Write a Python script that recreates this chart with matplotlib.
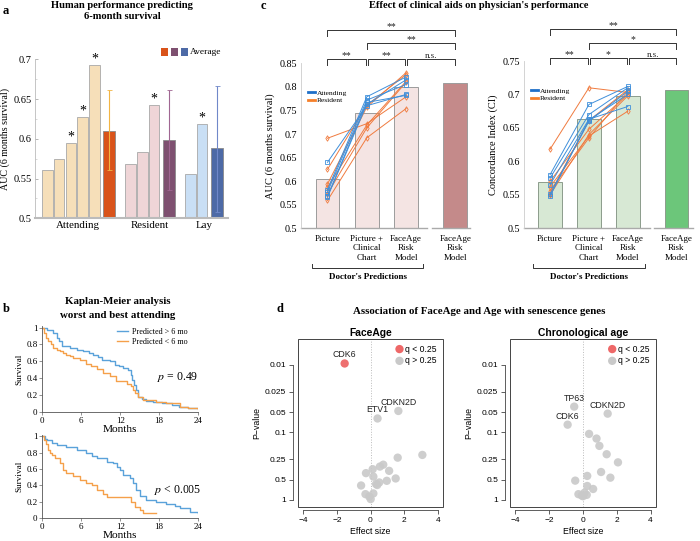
import numpy as np
import matplotlib
matplotlib.use('Agg')
import matplotlib.pyplot as plt
from matplotlib.lines import Line2D
from matplotlib.patches import Rectangle
import matplotlib.transforms as mtransforms

SERIF = 'Liberation Serif'
SANS = 'Liberation Sans'
plt.rcParams['font.family'] = [SERIF, 'DejaVu Serif']
plt.rcParams['mathtext.fontset'] = 'stix'

# ---------------- DATA ----------------
# Panel a
a_groups = ['Attending', 'Resident', 'Lay']
a_attending = [0.561, 0.575, 0.595, 0.627, 0.693]
a_resident = [0.568, 0.584, 0.642]
a_lay = [0.556, 0.618]
a_avg = [0.610, 0.598, 0.588]
a_avg_low = [0.561, 0.535, 0.508]
a_avg_high = [0.661, 0.661, 0.667]
a_sig_attending = [0, 0, 1, 1, 1]
a_sig_resident = [0, 0, 1]
a_sig_lay = [0, 1]

# Panel b (Kaplan-Meier, worst attending / best attending)
km1_hi_t = [0, 0.8, 1.6, 2.2, 2.6, 3.0, 4.2, 5.4, 6.3, 7.2, 7.8, 8.6, 9.2, 10.4, 11.2, 11.8, 12.5, 13.2, 13.6,
            13.9, 14.2, 14.5, 14.8, 15.3, 16.0, 17.0, 18.5, 20.0, 21.0, 22.5, 24.0]
km1_hi_s = [1.0, 0.97, 0.94, 0.88, 0.84, 0.78, 0.76, 0.74, 0.72, 0.70, 0.68, 0.65, 0.62, 0.60, 0.56, 0.54, 0.52,
            0.50, 0.44, 0.38, 0.32, 0.26, 0.18, 0.15, 0.13, 0.12, 0.10, 0.08, 0.05, 0.04, 0.04]
km1_lo_t = [0, 0.3, 0.6, 0.9, 1.3, 1.7, 2.2, 2.7, 3.2, 3.7, 4.3, 4.8, 5.8, 6.8, 7.5, 8.4, 9.4, 10.4, 11.4, 13.0,
            13.7, 14.0, 14.3, 14.8, 15.5, 17.6, 19.0, 21.2, 22.5, 24.0]
km1_lo_s = [1.0, 0.94, 0.88, 0.84, 0.80, 0.76, 0.74, 0.72, 0.70, 0.68, 0.66, 0.64, 0.62, 0.57, 0.54, 0.51, 0.46,
            0.42, 0.36, 0.33, 0.30, 0.26, 0.22, 0.17, 0.14, 0.12, 0.10, 0.06, 0.04, 0.03]
km2_hi_t = [0, 0.4, 0.8, 1.5, 2.2, 3.7, 5.3, 6.8, 7.6, 8.4, 9.9, 10.9, 11.5, 12.0, 12.5, 13.5, 14.0, 14.5, 15.0,
            16.0, 17.6, 19.0, 20.5, 21.2, 22.7, 24.0]
km2_hi_s = [1.0, 0.97, 0.95, 0.92, 0.89, 0.87, 0.83, 0.79, 0.76, 0.73, 0.69, 0.67, 0.63, 0.59, 0.53, 0.49, 0.43,
            0.35, 0.27, 0.22, 0.20, 0.18, 0.15, 0.12, 0.08, 0.07]
km2_lo_t = [0, 0.3, 0.6, 0.9, 1.2, 1.5, 1.9, 2.7, 3.2, 3.7, 4.8, 5.8, 6.8, 7.6, 8.4, 9.4, 10.0, 13.7, 14.3, 15.0,
            15.5, 17.3, 17.6]
km2_lo_s = [1.0, 0.95, 0.90, 0.83, 0.80, 0.77, 0.73, 0.67, 0.59, 0.55, 0.51, 0.47, 0.43, 0.40, 0.35, 0.29, 0.26,
            0.20, 0.14, 0.10, 0.07, 0.06, 0.06]
km_p_text = ['$p$ = 0.49', '$p$ < 0.005']

# Panel c
c_conditions = ['Picture', 'Picture +\nClinical\nChart', 'FaceAge\nRisk\nModel', 'FaceAge\nRisk\nModel']
auc_bars = [0.605, 0.745, 0.800, 0.808]
auc_attending = [[0.640, 0.760, 0.784], [0.582, 0.779, 0.821], [0.577, 0.772, 0.805],
                 [0.568, 0.767, 0.782], [0.566, 0.763, 0.815]]
auc_resident = [[0.691, 0.722, 0.779], [0.625, 0.761, 0.826], [0.594, 0.757, 0.830],
                [0.587, 0.719, 0.812], [0.573, 0.713, 0.810], [0.559, 0.692, 0.754]]
ci_bars = [0.569, 0.663, 0.698, 0.707]
ci_attending = [[0.580, 0.685, 0.712], [0.575, 0.670, 0.710], [0.565, 0.663, 0.682],
                [0.551, 0.660, 0.705], [0.548, 0.662, 0.700]]
ci_resident = [[0.618, 0.710, 0.703], [0.570, 0.648, 0.700], [0.562, 0.638, 0.675],
               [0.556, 0.635, 0.705], [0.552, 0.661, 0.707], [0.550, 0.640, 0.698]]
sig_pairs = [(0, 1), (1, 2), (2, 3), (1, 3), (0, 3)]
sig_levels = [0, 0, 0, 1, 2]
auc_sig = ['**', '**', 'n.s.', '**', '**']
ci_sig = ['**', '*', 'n.s.', '*', '**']

# Panel d
fa_genes = ['CDK6', 'CDKN2D', 'ETV1', '', '', '', '', '', '', '', '', '', '', '', '', '', '', '', '', '', '']
fa_effect = [-1.54, 1.66, 0.42, 3.09, 1.62, 0.76, 0.56, 0.13, 1.11, -0.27, 0.17, 1.50, 0.97, 0.52, 0.33,
             -0.56, 0.17, -0.30, -0.07, 0.01, 0.40]
fa_p = [0.0095, 0.048, 0.062, 0.215, 0.236, 0.30, 0.32, 0.35, 0.37, 0.40, 0.45, 0.48, 0.52, 0.55, 0.58,
        0.61, 0.80, 0.82, 0.89, 0.97, 0.60]
fa_q_sig = [1] + [0] * 20
ca_genes = ['TP63', 'CDKN2D', 'CDK6', '', '', '', '', '', '', '', '', '', '', '', '', '', '', '', '']
ca_effect = [-0.52, 1.46, -0.91, 0.36, 0.80, 0.97, 1.40, 2.07, 1.07, 1.62, 0.25, -0.46, 0.25, 0.60,
             -0.27, 0.09, 0.22, -0.07, 0.0]
ca_p = [0.0414, 0.0526, 0.0766, 0.105, 0.123, 0.158, 0.21, 0.277, 0.385, 0.467, 0.44, 0.517, 0.62, 0.687,
        0.82, 0.78, 0.84, 0.86, 0.88]
ca_q_sig = [0] * 19
p_ticks = [0.01, 0.025, 0.05, 0.1, 0.25, 0.5, 1]
p_ticklabels = ['0.01', '0.025', '0.05', '0.1', '0.25', '0.5', '1']

# ---------------- FIGURE ----------------
W, H = 700, 541
fig = plt.figure(figsize=(7.0, 5.41), dpi=100)


def axpx(x0, y0, x1, y1):
    return fig.add_axes([x0 / W, 1 - y1 / H, (x1 - x0) / W, (y1 - y0) / H])


def fy(y):
    return 1 - y / H


def ftext(x, y, s, **kw):
    fig.text(x / W, fy(y), s, **kw)


# ---------- panel a ----------
ftext(6, 11, 'a', fontsize=9, fontweight='bold', ha='center', va='center')
ftext(122, 5.5, 'Human performance predicting', fontsize=7.6, fontweight='bold', ha='center', va='center')
ftext(122, 16.5, '6-month survival', fontsize=7.6, fontweight='bold', ha='center', va='center')

axa = axpx(35, 59.3, 228, 218.3)
ind_colors = ['#F6DFB9', '#EFD5D7', '#C9DFF5']
avg_colors = ['#D9531A', '#7E5070', '#4D6AA6']
err_colors = ['#F2B544', '#A06692', '#7088C9']
group_vals = [a_attending, a_resident, a_lay]
group_sig = [a_sig_attending, a_sig_resident, a_sig_lay]
start = 0.0
centers = []
for gi, vals in enumerate(group_vals):
    xs = start + np.arange(len(vals))
    axa.bar(xs, vals, width=0.88, color=ind_colors[gi], edgecolor='#A8A8A8', linewidth=0.6, zorder=2)
    xa = xs[-1] + 1.25
    axa.bar([xa], [a_avg[gi]], width=1.02, color=avg_colors[gi], edgecolor='#8A8A8A', linewidth=0.6, zorder=2)
    axa.errorbar([xa], [a_avg[gi]], yerr=[[a_avg[gi] - a_avg_low[gi]], [a_avg_high[gi] - a_avg[gi]]],
                 ecolor=err_colors[gi], elinewidth=0.8, capsize=1.8, capthick=0.6, fmt='none', zorder=3)
    for x, v, s in zip(xs, vals, group_sig[gi]):
        if s:
            axa.text(x, v + 0.0075, '*', ha='center', va='center', fontsize=10, clip_on=False)
    centers.append((xs[0] + xa) / 2)
    start = xa + 1.83
axa.set_xlim(-1.05, 15.35)
axa.set_ylim(0.5, 0.7)
axa.set_yticks([0.5, 0.55, 0.6, 0.65, 0.7])
axa.set_yticklabels(['0.5', '0.55', '0.6', '0.65', '0.7'])
axa.set_yticks([0.525, 0.575, 0.625, 0.675], minor=True)
axa.tick_params(axis='y', direction='in', length=2, width=0.5, color='#999999', labelsize=7.5, pad=2.5)
axa.tick_params(axis='y', which='minor', direction='in', length=1.2, width=0.4, color='#BBBBBB')
axa.set_xticks(centers)
axa.set_xticklabels(a_groups)
axa.tick_params(axis='x', length=0, labelsize=7.8, pad=2)
for s in ['top', 'right']:
    axa.spines[s].set_visible(False)
axa.spines['left'].set_color('#BBBBBB')
axa.spines['left'].set_linewidth(0.6)
axa.spines['bottom'].set_color('#BBBBBB')
axa.spines['bottom'].set_linewidth(1.5)
axa.set_ylabel('AUC (6 months survival)', fontsize=7.2, labelpad=2)
for k, c in enumerate(avg_colors):
    fig.add_artist(Rectangle(((161 + 10 * k) / W, fy(55.5)), 7.2 / W, 7.2 / H, transform=fig.transFigure,
                             facecolor=c, edgecolor='none'))
ftext(190, 51.5, 'Average', fontsize=6.8, ha='left', va='center')

# ---------- panel b ----------
ftext(6, 309, 'b', fontsize=9, fontweight='bold', ha='center', va='center')
ftext(118, 302, 'Kaplan-Meier analysis', fontsize=7.8, fontweight='bold', ha='center', va='center')
ftext(118, 315, 'worst and best attending', fontsize=7.8, fontweight='bold', ha='center', va='center')
km_blue = '#5AA2DA'
km_orange = '#F5A04A'
km_boxes = [(42.3, 326, 198, 411.7), (42.3, 434.5, 198, 518.3)]
km_data = [(km1_hi_t, km1_hi_s, km1_lo_t, km1_lo_s), (km2_hi_t, km2_hi_s, km2_lo_t, km2_lo_s)]
for i, (box, d) in enumerate(zip(km_boxes, km_data)):
    ax = axpx(*box)
    ax.plot(d[0], d[1], drawstyle='steps-post', color=km_blue, lw=1.0, label='Predicted > 6 mo')
    ax.plot(d[2], d[3], drawstyle='steps-post', color=km_orange, lw=1.0, label='Predicted < 6 mo')
    ax.set_xlim(0, 24)
    ax.set_ylim(0, 1.02)
    ax.set_xticks([0, 6, 12, 18, 24])
    ax.set_yticks([0, 0.2, 0.4, 0.6, 0.8, 1.0])
    ax.set_yticklabels(['0', '0.2', '0.4', '0.6', '0.8', '1'])
    ax.tick_params(labelsize=6.5, length=2, width=0.5, pad=1.5, color='#666666')
    for s in ['top', 'right']:
        ax.spines[s].set_visible(False)
    for s in ['left', 'bottom']:
        ax.spines[s].set_linewidth(0.6)
        ax.spines[s].set_color('#555555')
    ax.set_xlabel('Months', fontsize=8.2, labelpad=0)
    ax.set_ylabel('Survival', fontsize=6.6, labelpad=2)
    ax.text(0.87, 0.4 if i == 0 else 0.34, km_p_text[i], transform=ax.transAxes, fontsize=8.5,
            ha='center', va='center')
    if i == 0:
        ax.legend(loc='upper left', bbox_to_anchor=(0.48, 0.98), frameon=False, fontsize=5.9,
                  handlelength=1.3, handletextpad=0.5, labelspacing=0.25, borderaxespad=0, borderpad=0)

# ---------- panel c ----------
ftext(263, 6, 'c', fontsize=9, fontweight='bold', ha='center', va='center')
ftext(478.5, 5.5, "Effect of clinical aids on physician's performance", fontsize=7.6, fontweight='bold',
      ha='center', va='center')
c_pos = [0, 1, 2, 3.25]
att_col = '#3F8FDA'
res_col = '#F07B3F'


def panel_c(box, xlim, bars, bar_col, model_col, edge_col, att, res, ylim, yticks, ytl, ylabel, sig,
            lvl_px, brk, doc_range):
    ax = axpx(*box)
    ax.bar(c_pos[:3], bars[:3], width=0.61, color=bar_col, edgecolor=edge_col, linewidth=0.7, zorder=1)
    ax.bar(c_pos[3:], bars[3:], width=0.61, color=model_col, edgecolor=edge_col, linewidth=0.7, zorder=1)
    for d in res:
        ax.plot(c_pos[:3], d, color=res_col, lw=0.7, marker='d', ms=2.8, mfc='none', mew=0.6, zorder=3)
    for d in att:
        ax.plot(c_pos[:3], d, color=att_col, lw=0.7, marker='s', ms=2.3, mfc='none', mew=0.6, zorder=4)
    ax.set_xlim(*xlim)
    ax.set_ylim(*ylim)
    ax.set_yticks(yticks)
    ax.set_yticklabels(ytl)
    ax.tick_params(axis='y', length=0, labelsize=7.3, pad=3)
    ax.set_xticks(c_pos)
    ax.set_xticklabels(c_conditions, linespacing=1.25)
    ax.tick_params(axis='x', length=0, labelsize=6.5, pad=4.5)
    for s in ['top', 'right', 'bottom']:
        ax.spines[s].set_visible(False)
    ax.spines['left'].set_color('#CCCCCC')
    ax.spines['left'].set_linewidth(0.6)
    ax.plot([xlim[0], brk[0]], [0, 0], transform=ax.get_xaxis_transform(), color='#AAAAAA', lw=1.0,
            clip_on=False)
    ax.plot([brk[1], xlim[1]], [0, 0], transform=ax.get_xaxis_transform(), color='#AAAAAA', lw=1.0,
            clip_on=False)
    ax.set_ylabel(ylabel, fontsize=7.5, labelpad=3)
    blend = mtransforms.blended_transform_factory(ax.transData, fig.transFigure)
    for (i, j), lab, lv in zip(sig_pairs, sig, sig_levels):
        gap = 0.025 if lv == 0 else 0.0
        xi = c_pos[i] + (gap if i > 0 else 0)
        xj = c_pos[j] - (gap if j < 3 else 0)
        y = lvl_px[lv]
        ax.add_line(Line2D([xi, xi, xj, xj], [fy(y + 6), fy(y), fy(y), fy(y + 6)], transform=blend,
                           clip_on=False, color='#333333', lw=0.7))
        ax.text((xi + xj) / 2, fy(y - 3.5), lab, transform=blend, ha='center', va='center',
                fontsize=7 if lab != 'n.s.' else 6.5, color='#222222')
    # Doctor's Predictions bracket
    ax.add_line(Line2D([doc_range[0], doc_range[0], doc_range[1], doc_range[1]],
                       [fy(263.5), fy(268), fy(268), fy(263.5)], transform=blend, clip_on=False,
                       color='#333333', lw=0.7))
    ax.text((doc_range[0] + doc_range[1]) / 2, fy(277), "Doctor's Predictions", transform=blend,
            ha='center', va='center', fontsize=6.5, fontweight='bold')
    handles = [Line2D([], [], color='#1E6FC8', lw=2), Line2D([], [], color='#F5802A', lw=2)]
    ax.legend(handles, ['Attending', 'Resident'], loc='upper left', bbox_to_anchor=(0.04, 0.84),
              frameon=False, fontsize=5.4, handlelength=0.9, handletextpad=0.3, labelspacing=0.15,
              borderaxespad=0, borderpad=0)
    return ax


panel_c((301, 63.3, 470, 228.3), (-0.674, 3.626), auc_bars, '#F4E4E3', '#C48A8A', '#9C9C9C',
        auc_attending, auc_resident, (0.5, 0.85), [0.5, 0.55, 0.6, 0.65, 0.7, 0.75, 0.8, 0.85],
        ['0.5', '0.55', '0.6', '0.65', '0.7', '0.75', '0.8', '0.85'], 'AUC (6 months survival)', auc_sig,
        [59.3, 42.7, 30.0], (2.54, 2.66), (-0.39, 2.43))
panel_c((524.3, 61, 693, 228.3), (-0.661, 3.676), ci_bars, '#D7E8D4', '#6CC67A', '#8C9C8C',
        ci_attending, ci_resident, (0.5, 0.75), [0.5, 0.55, 0.6, 0.65, 0.7, 0.75],
        ['0.5', '0.55', '0.6', '0.65', '0.7', '0.75'], 'Concordance Index (CI)', ci_sig,
        [58.3, 42.7, 29.3], (2.57, 2.67), (-0.44, 2.45))

# ---------- panel d ----------
ftext(280, 309, 'd', fontsize=9, fontweight='bold', ha='center', va='center')
ftext(479, 311, 'Association of FaceAge and Age with senescence genes', fontsize=7.8, fontweight='bold',
      ha='center', va='center')


def volcano(box, title, eff, pv, qsig, genes):
    ax = axpx(*box)
    y = -np.log10(np.array(pv))
    eff = np.array(eff)
    sig = np.array(qsig, dtype=bool)
    ax.axvline(0, color='#BBBBBB', lw=0.7, ls=':', zorder=0)
    ax.scatter(eff[~sig], y[~sig], s=36, color='#C9C9C9', alpha=0.9, edgecolors='none', zorder=2)
    ax.scatter(eff[sig], y[sig], s=36, color='#EE6868', alpha=0.95, edgecolors='none', zorder=3)
    for g, xx, yy in zip(genes, eff, y):
        if g:
            ax.annotate(g, (xx, yy), xytext=(0, 6.2), textcoords='offset points', ha='center', va='center',
                        fontsize=6.3, family=SANS, color='#222222')
    ax.set_xlim(-4.32, 4.32)
    ax.set_ylim(-0.104, 2.385)
    ax.set_xticks([-4, -2, 0, 2, 4])
    ax.set_xticklabels(['\u22124', '\u22122', '0', '2', '4'], family=SANS)
    ax.set_yticks(-np.log10(p_ticks))
    ax.set_yticklabels(p_ticklabels, family=SANS)
    ax.tick_params(labelsize=6, length=3, width=0.6, color='#444444', pad=2, labelfontfamily=SANS)
    for s in ['top', 'right']:
        ax.spines[s].set_visible(False)
    ax.spines['left'].set_position(('outward', 3.5))
    ax.spines['left'].set_bounds(0, 2)
    ax.spines['bottom'].set_position(('outward', 2.5))
    ax.spines['bottom'].set_bounds(-4, 4)
    for s in ['left', 'bottom']:
        ax.spines[s].set_linewidth(0.6)
        ax.spines[s].set_color('#444444')
    ax.add_patch(Rectangle((0, 0), 1, 1, transform=ax.transAxes, fill=False, edgecolor='#444444', lw=0.7,
                           clip_on=False))
    ax.set_xlabel('Effect size', fontsize=6.3, family=SANS, labelpad=2)
    ax.set_ylabel('P\u2212value', fontsize=6.3, family=SANS, labelpad=3)
    ax.set_title(title, fontsize=7.4, fontweight='bold', family=SANS, pad=2.5)
    ax.scatter([0.70], [0.94], s=36, color='#EE6868', transform=ax.transAxes, edgecolors='none', clip_on=False)
    ax.scatter([0.70], [0.87], s=36, color='#C9C9C9', transform=ax.transAxes, edgecolors='none', clip_on=False)
    ax.text(0.74, 0.94, 'q < 0.25', transform=ax.transAxes, fontsize=6.2, family=SANS, va='center')
    ax.text(0.74, 0.87, 'q > 0.25', transform=ax.transAxes, fontsize=6.2, family=SANS, va='center')
    return ax


volcano((298, 339, 443, 507), 'FaceAge', fa_effect, fa_p, fa_q_sig, fa_genes)
volcano((510, 339, 656, 507), 'Chronological age', ca_effect, ca_p, ca_q_sig, ca_genes)

fig.savefig('out.png', dpi=100)
